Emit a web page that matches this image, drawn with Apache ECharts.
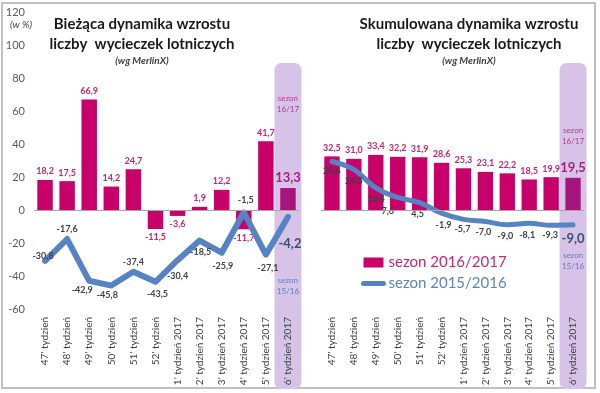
<!DOCTYPE html>
<html><head><meta charset="utf-8">
<script src="https://cdn.jsdelivr.net/npm/echarts@6/dist/echarts.min.js"></script>
<style>html,body{margin:0;padding:0;background:#fff}#c{width:600px;height:393px}</style>
</head><body><div id="c"></div>
<script>
const categories = ["47' tydzień","48' tydzień","49' tydzień","50' tydzień","51' tydzień","52' tydzień","1' tydzień 2017","2' tydzień 2017","3' tydzień 2017","4' tydzień 2017","5' tydzień 2017","6' tydzień 2017"];
const currentBars = [18.2, 17.5, 66.9, 14.2, 24.7, -11.5, -3.6, 1.9, 12.2, -11.7, 41.7, 13.3];
const currentLine = [-30.8, -17.6, -42.9, -45.8, -37.4, -43.5, -30.4, -18.5, -25.9, -1.5, -27.1, -4.2];
const cumulBars = [32.5, 31.0, 33.4, 32.2, 31.9, 28.6, 25.3, 23.1, 22.2, 18.5, 19.9, 19.5];
const cumulLine = [29.4, 24.5, 13.4, 7.6, 4.5, -1.9, -5.7, -7.0, -9.0, -8.1, -9.3, -9.0];
const yMin = -60, yMax = 120, yStep = 20;
const seriesNames = ['sezon 2016/2017', 'sezon 2015/2016'];

// label placement styles (not data)
const leftLinePos = ['inside','top','bottom','bottom','top','bottom','bottom','bottom','bottom','top','bottom','bottom'];
const leftLineOff = [[-2,-5],[0,0],[-7,0],[-4,0],[0,0],[2,3],[0,6],[1,2],[1,4],[2,-3],[2,4],[2,15]];
const rightLineOff = [[0,0],[0,2],[0,2],[-10,4],[-2,2],[2,2],[-1,0],[-2,1],[-2,2],[-2,2],[-1,0],[0,2]];

const FONT = 'Lato, "Open Sans", sans-serif';
const BAR = '#c8006a', BAR_LAST = '#a5157d', BAR_LBL = '#c8246f';
const LINE = '#5683c4', DARK = '#404040', LAST_LBL = '#3e4c6c';
const fmt = v => v.toFixed(1).replace('.', ',');
const n = categories.length;

function barData(vals) {
  return vals.map((v, i) => {
    const last = i === n - 1;
    return {
      value: v,
      itemStyle: last ? { color: BAR_LAST } : undefined,
      label: {
        position: v < 0 ? 'bottom' : 'top',
        distance: 4,
        fontSize: last ? 13 : 9,
        color: last ? '#a8207e' : BAR_LBL
      }
    };
  });
}
function lineData(vals, pos, off) {
  return vals.map((v, i) => {
    const last = i === n - 1;
    return {
      value: v,
      label: {
        position: pos[i], offset: off[i],
        fontSize: last ? 13 : 9,
        color: last ? LAST_LBL : DARK
      }
    };
  });
}

const chart = echarts.init(document.getElementById('c'), null, { renderer: 'canvas', width: 600, height: 393 });

const xAxisBase = {
  type: 'category', data: categories, boundaryGap: true,
  axisLine: { show: false }, axisTick: { show: false },
  axisLabel: { rotate: 90, fontSize: 10, color: DARK, fontFamily: FONT, margin: 8, interval: 0 }
};
const zeroLine = {
  silent: true, symbol: ['none', 'none'], label: { show: false },
  lineStyle: { color: '#a6a6a6', width: 1, type: 'solid' },
  data: [{ yAxis: 0 }]
};

const option = {
  animation: false,
  textStyle: { fontFamily: FONT },
  title: [
    { text: 'Bieżąca dynamika wzrostu\nliczby  wycieczek lotniczych', subtext: '(wg MerlinX)',
      left: 137, top: 9, textAlign: 'center', itemGap: 2,
      textStyle: { fontSize: 15, fontWeight: 'bold', color: '#1a1a1a', lineHeight: 20, fontFamily: FONT },
      subtextStyle: { fontSize: 10, fontStyle: 'italic', fontWeight: 'bold', color: '#404040', fontFamily: FONT } },
    { text: 'Skumulowana dynamika wzrostu\nliczby  wycieczek lotniczych', subtext: '(wg MerlinX)',
      left: 464, top: 9, textAlign: 'center', itemGap: 2,
      textStyle: { fontSize: 15, fontWeight: 'bold', color: '#1a1a1a', lineHeight: 20, fontFamily: FONT },
      subtextStyle: { fontSize: 10, fontStyle: 'italic', fontWeight: 'bold', color: '#404040', fontFamily: FONT } }
  ],
  legend: {
    orient: 'vertical', left: 356, top: 250, itemGap: 6, itemWidth: 20, itemHeight: 10,
    data: [
      { name: seriesNames[0], icon: 'rect', textStyle: { color: '#c2287a', fontSize: 15, fontFamily: FONT } },
      { name: seriesNames[1], itemStyle: { opacity: 0 }, lineStyle: { width: 5, cap: 'round', color: LINE },
        textStyle: { color: '#5b84c4', fontSize: 15, fontFamily: FONT } }
    ]
  },
  grid: [
    { left: 34, right: 301, top: 12, bottom: 84 },
    { left: 321, right: 16, top: 12, bottom: 84 }
  ],
  xAxis: [
    Object.assign({ gridIndex: 0 }, xAxisBase),
    Object.assign({ gridIndex: 1 }, xAxisBase)
  ],
  yAxis: [
    { gridIndex: 0, type: 'value', min: yMin, max: yMax, interval: yStep,
      axisLine: { show: false }, axisTick: { show: false }, splitLine: { show: false },
      axisLabel: { fontSize: 11, color: '#595959', fontFamily: FONT, margin: 9 } },
    { gridIndex: 1, type: 'value', min: yMin, max: yMax, interval: yStep,
      axisLine: { show: false }, axisTick: { show: false }, splitLine: { show: false },
      axisLabel: { show: false } }
  ],
  series: [
    { name: seriesNames[0], type: 'bar', xAxisIndex: 0, yAxisIndex: 0, barWidth: '70%', z: 2,
      itemStyle: { color: BAR },
      label: { show: true, fontWeight: 'bold', fontFamily: FONT, formatter: p => fmt(p.value) },
      markLine: zeroLine,
      data: barData(currentBars) },
    { name: seriesNames[1], type: 'line', xAxisIndex: 0, yAxisIndex: 0, symbol: 'circle', symbolSize: 0, showSymbol: true, z: 3,
      lineStyle: { color: LINE, width: 6, cap: 'round', join: 'round' }, itemStyle: { color: LINE },
      label: { show: true, fontWeight: 'bold', fontFamily: FONT, formatter: p => fmt(p.value) },
      data: lineData(currentLine, leftLinePos, leftLineOff) },
    { name: seriesNames[0], type: 'bar', xAxisIndex: 1, yAxisIndex: 1, barWidth: '70%', z: 2,
      itemStyle: { color: BAR },
      label: { show: true, fontWeight: 'bold', fontFamily: FONT, formatter: p => fmt(p.value) },
      markLine: zeroLine,
      data: barData(cumulBars) },
    { name: seriesNames[1], type: 'line', xAxisIndex: 1, yAxisIndex: 1, symbol: 'circle', symbolSize: 0, showSymbol: true, smooth: 0.4, z: 3,
      lineStyle: { color: LINE, width: 5, cap: 'round', join: 'round' }, itemStyle: { color: LINE },
      label: { show: true, fontWeight: 'bold', fontFamily: FONT, formatter: p => fmt(p.value) },
      data: lineData(cumulLine, new Array(n).fill('bottom'), rightLineOff) }
  ]
};
chart.setOption(option);

// decorative highlight bands and annotations, positioned from the axes
const lastCat = categories[n - 1];
const xL = chart.convertToPixel({ xAxisIndex: 0 }, lastCat);
const xR = chart.convertToPixel({ xAxisIndex: 1 }, lastCat);
const bandW = 27;
function band(cx) {
  return { type: 'rect', z: -10, silent: true,
    shape: { x: cx - bandW / 2, y: 63, width: bandW, height: 326, r: 7 },
    style: { fill: '#d7c3e8' } };
}
function note(cx, y, txt, color) {
  return { type: 'text', z: 5, silent: true, x: cx, y: y,
    style: { text: txt, fill: color, font: '8px ' + FONT, align: 'center', verticalAlign: 'middle', lineHeight: 11 } };
}
chart.setOption({
  graphic: [
    { type: 'rect', z: -20, silent: true, shape: { x: 2, y: 3, width: 593, height: 385 },
      style: { fill: 'none', stroke: '#c0c0c0', lineWidth: 2 } },
    band(xL), band(xR),
    note(xL, 104, 'sezon\n16/17', '#b03c8c'),
    note(xL, 286, 'sezon\n15/16', '#5b7fbf'),
    note(xR, 136, 'sezon\n16/17', '#b03c8c'),
    note(xR, 261, 'sezon\n15/16', '#5b7fbf'),
    { type: 'text', z: 5, silent: true, x: 10, y: 20,
      style: { text: '(w %)', fill: DARK, font: 'italic 10px ' + FONT } }
  ]
});
</script></body></html>
